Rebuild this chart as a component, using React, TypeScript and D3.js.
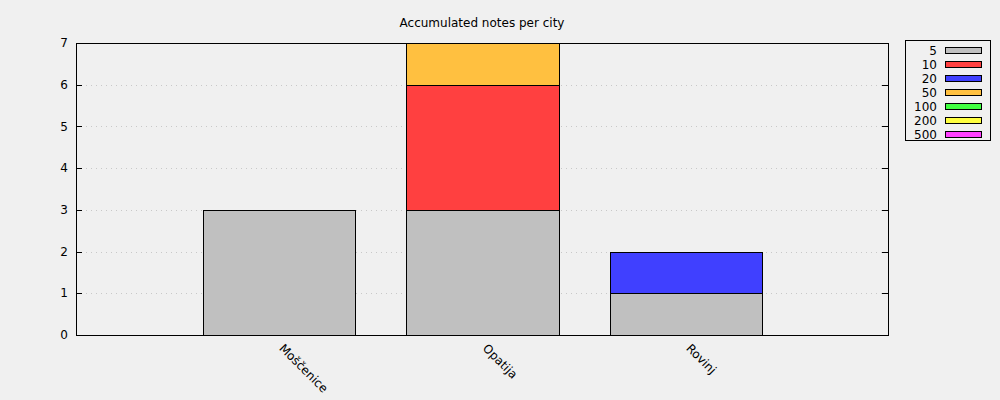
import React from "react";
import * as d3 from "d3";

const cities = ["Moščenice", "Opatija", "Rovinj"];
const denominations = ["5", "10", "20", "50", "100", "200", "500"];
const colors = ["#c0c0c0", "#ff4040", "#4040ff", "#ffc040", "#40ff40", "#ffff40", "#ff40ff"];
// counts per denomination, per city (Moščenice, Opatija, Rovinj)
const notes5 = [3, 3, 1];
const notes10 = [0, 3, 0];
const notes20 = [0, 0, 1];
const notes50 = [0, 1, 0];
const notes100 = [0, 0, 0];
const notes200 = [0, 0, 0];
const notes500 = [0, 0, 0];
const series = [notes5, notes10, notes20, notes50, notes100, notes200, notes500];
const yTicks = [0, 1, 2, 3, 4, 5, 6, 7];
const title = "Accumulated notes per city";

export default function App() {
  const W = 1000, H = 400;
  const left = 76, right = 888, top = 43, bottom = 335;
  const x = d3.scaleLinear().domain([-1, 3]).range([left, 890]);
  const y = d3.scaleLinear().domain([0, 7]).range([bottom, top]);
  const barW = 0.748;
  const font = "DejaVu Sans, sans-serif";
  const px = (v: number) => Math.round(v) + 0.5;
  const fx = (v: number) => Math.floor(v) + 0.5;

  const rects: any[] = [];
  cities.forEach((c, i) => {
    let acc = 0;
    series.forEach((s, k) => {
      const v = s[i];
      if (v > 0) {
        const y0 = acc, y1 = acc + v;
        const xa = fx(x(i - barW / 2)), xb = fx(x(i + barW / 2));
        const ya = px(y(y1)), yb = px(y(y0));
        rects.push(
          <rect key={c + k} x={xa} y={ya} width={xb - xa} height={yb - ya}
            fill={colors[k]} stroke="#000" strokeWidth={1} />
        );
        acc = y1;
      }
    });
  });

  return (
    <svg width={W} height={H} style={{ position: "absolute", left: 0, top: 0, background: "#f0f0f0" }} fontFamily={font}>
      <rect x={0} y={0} width={W} height={H} fill="#f0f0f0" />
      <text x={(left + right) / 2} y={27} textAnchor="middle" fontSize={12}>{title}</text>
      {yTicks.slice(1, -1).map(t => (
        <line key={"g" + t} x1={left} x2={right} y1={px(y(t))} y2={px(y(t))}
          stroke="#c8c8c8" strokeWidth={1} strokeDasharray="1,4" />
      ))}
      {rects}
      <rect x={left + 0.5} y={top + 0.5} width={right - left} height={bottom - top} fill="none" stroke="#000" strokeWidth={1} />
      {yTicks.map(t => (
        <g key={"t" + t}>
          <line x1={left} x2={left + 6} y1={px(y(t))} y2={px(y(t))} stroke="#000" />
          <line x1={right - 6} x2={right} y1={px(y(t))} y2={px(y(t))} stroke="#000" />
          <text x={68} y={y(t)} dy="0.35em" textAnchor="end" fontSize={12}>{t}</text>
        </g>
      ))}
      {cities.map((c, i) => (
        <text key={"c" + c} transform={`translate(${x(i) - 1},${349}) rotate(45)`} fontSize={12}>{c}</text>
      ))}
      <rect x={905.5} y={40.5} width={85} height={100} fill="#f0f0f0" stroke="#000" />
      {denominations.map((d, k) => (
        <g key={"l" + d}>
          <text x={937} y={51 + k * 14} dy="0.35em" textAnchor="end" fontSize={12}>{d}</text>
          <rect x={945.5} y={47.5 + k * 14} width={36} height={6} fill={colors[k]} stroke="#000" />
        </g>
      ))}
    </svg>
  );
}
